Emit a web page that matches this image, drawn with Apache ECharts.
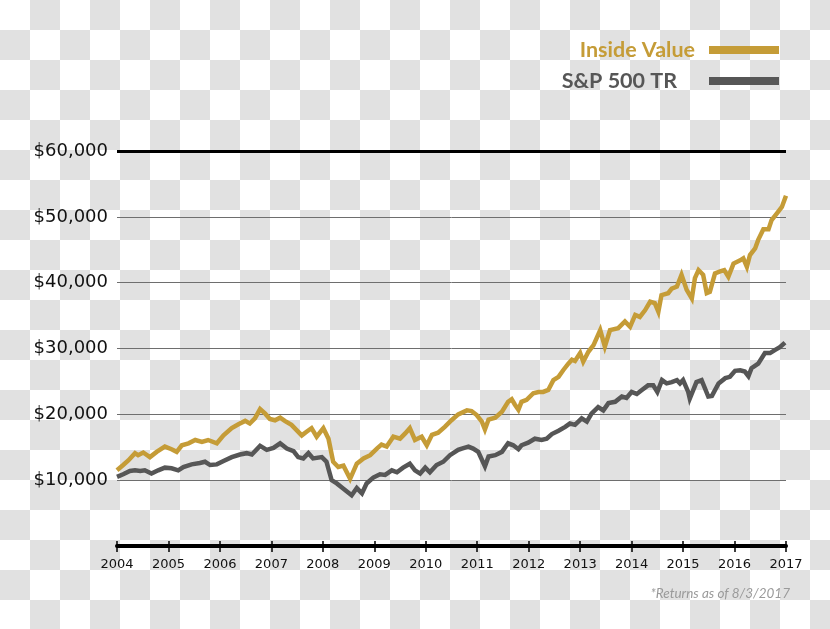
<!DOCTYPE html>
<html>
<head>
<meta charset="utf-8">
<script src="https://cdn.jsdelivr.net/npm/echarts@6/dist/echarts.min.js"></script>
<style>
  html, body { margin: 0; padding: 0; }
  body {
    width: 830px; height: 629px; overflow: hidden;
    background: repeating-conic-gradient(#e1e1e1 0 25%, #ffffff 0 50%) 0 0 / 60px 60px;
  }
  #chart { width: 830px; height: 629px; }
</style>
</head>
<body>
<div id="chart"></div>
<script>
// ---- data ----
const seriesNames = ['Inside Value', 'S&P 500 TR'];
const yTicks = [0, 10000, 20000, 30000, 40000, 50000, 60000];
const xTickYears = [2004, 2005, 2006, 2007, 2008, 2009, 2010, 2011, 2012, 2013, 2014, 2015, 2016, 2017];

const ivYears = [2004.00,2004.12,2004.22,2004.35,2004.41,2004.51,2004.64,2004.77,2004.93,2005.06,2005.16,2005.26,2005.39,2005.52,2005.65,2005.77,2005.94,2006.07,2006.23,2006.36,2006.49,2006.58,2006.68,2006.78,2006.88,2006.97,2007.07,2007.17,2007.26,2007.39,2007.49,2007.59,2007.69,2007.78,2007.88,2008.01,2008.11,2008.20,2008.30,2008.40,2008.53,2008.66,2008.79,2008.92,2009.05,2009.14,2009.24,2009.37,2009.50,2009.60,2009.69,2009.79,2009.92,2010.02,2010.12,2010.24,2010.37,2010.50,2010.63,2010.80,2010.89,2010.99,2011.09,2011.15,2011.22,2011.35,2011.48,2011.60,2011.67,2011.73,2011.80,2011.86,2011.96,2012.09,2012.19,2012.28,2012.38,2012.48,2012.58,2012.67,2012.77,2012.84,2012.90,2013.00,2013.06,2013.16,2013.26,2013.39,2013.48,2013.58,2013.74,2013.87,2013.97,2014.07,2014.16,2014.26,2014.36,2014.45,2014.52,2014.58,2014.71,2014.78,2014.88,2014.97,2015.07,2015.17,2015.23,2015.30,2015.39,2015.46,2015.52,2015.62,2015.72,2015.80,2015.88,2015.98,2016.11,2016.17,2016.24,2016.30,2016.40,2016.46,2016.56,2016.66,2016.72,2016.82,2016.92,2017.00];
const ivValues = [11500,12300,13000,14100,13800,14200,13500,14300,15100,14700,14300,15300,15600,16100,15800,16100,15600,16800,17900,18500,19000,18600,19400,20800,20100,19300,19100,19500,19000,18400,17600,16800,17400,17900,16600,17900,16300,12800,12000,12200,10200,12500,13300,13800,14800,15400,15100,16600,16300,17100,17900,16100,16600,15300,16900,17200,18100,19100,20000,20600,20500,19900,18900,17700,19200,19500,20400,21900,22300,21500,20700,21900,22200,23200,23400,23400,23700,25200,25700,26700,27700,28300,28100,29300,28000,29500,30500,32800,30300,32800,33100,34100,33300,35100,34800,35800,37100,36900,35600,38100,38400,39100,39400,41200,38900,37600,40700,41900,41200,38400,38600,41400,41700,41900,40900,42900,43400,43700,42400,44200,45200,46500,48100,48100,49500,50500,51500,53200];

const spYears = [2004.00,2004.12,2004.25,2004.35,2004.45,2004.54,2004.67,2004.80,2004.93,2005.06,2005.19,2005.29,2005.45,2005.61,2005.71,2005.81,2005.94,2006.07,2006.23,2006.39,2006.52,2006.62,2006.78,2006.91,2007.04,2007.17,2007.30,2007.43,2007.52,2007.62,2007.72,2007.81,2007.98,2008.07,2008.17,2008.27,2008.40,2008.56,2008.66,2008.76,2008.85,2008.98,2009.11,2009.21,2009.34,2009.44,2009.56,2009.69,2009.79,2009.89,2009.99,2010.08,2010.21,2010.34,2010.47,2010.63,2010.70,2010.83,2010.92,2011.02,2011.15,2011.22,2011.35,2011.48,2011.60,2011.70,2011.80,2011.86,2011.99,2012.12,2012.25,2012.35,2012.45,2012.58,2012.71,2012.80,2012.90,2013.03,2013.13,2013.22,2013.35,2013.45,2013.55,2013.68,2013.81,2013.90,2014.00,2014.10,2014.20,2014.32,2014.42,2014.50,2014.59,2014.68,2014.78,2014.88,2014.94,2015.00,2015.10,2015.13,2015.26,2015.36,2015.49,2015.56,2015.69,2015.82,2015.91,2016.01,2016.11,2016.20,2016.27,2016.33,2016.46,2016.59,2016.69,2016.79,2016.88,2016.98];
const spValues = [10500,10900,11400,11500,11400,11500,11000,11500,11900,11800,11500,12000,12400,12600,12800,12300,12400,12900,13500,13900,14100,13900,15200,14600,14900,15600,14800,14400,13500,13300,14100,13300,13500,12800,10000,9500,8700,7700,8800,8000,9500,10400,10900,10800,11500,11200,11900,12500,11500,11000,11900,11200,12300,12800,13800,14600,14800,15100,14800,14300,12100,13600,13800,14300,15600,15300,14700,15300,15700,16300,16100,16300,17000,17500,18100,18600,18400,19400,18900,20100,21100,20600,21700,21900,22700,22500,23400,23100,23700,24400,24400,23400,25200,24700,24900,25200,24700,25200,23400,22400,24900,25200,22700,22800,24700,25500,25700,26600,26700,26500,25800,27000,27700,29300,29300,29800,30200,30900];

const footnote = '*Returns as of 8/3/2017';

// ---- chart ----
const gold = '#c59c37';
const grey = '#565656';
const chart = echarts.init(document.getElementById('chart'), null, { renderer: 'canvas' });

const pair = (xs, ys) => xs.map((x, i) => [x, ys[i]]);
const fmtMoney = v => '$' + v.toLocaleString('en-US');

chart.setOption({
  animation: false,
  backgroundColor: 'transparent',
  grid: { left: 117, right: 44, top: 151, bottom: 83, containLabel: false },
  legend: {
    orient: 'vertical',
    right: 46,
    top: 34,
    align: 'right',
    icon: 'rect',
    itemWidth: 70,
    itemHeight: 8,
    itemGap: 9,
    selectedMode: false,
    data: [
      { name: seriesNames[0], textStyle: { color: gold, padding: [0, 9, 0, 0] } },
      { name: seriesNames[1], textStyle: { color: grey, padding: [0, 27, 0, 0] } }
    ],
    textStyle: { fontFamily: 'Lato', fontWeight: 'bold', fontSize: 21.5 }
  },
  xAxis: [{
    type: 'value',
    min: xTickYears[0],
    max: xTickYears[xTickYears.length - 1],
    interval: 1,
    axisLine: { show: true, onZero: false, lineStyle: { color: '#000', width: 4 } },
    axisTick: { show: true, length: 6, lineStyle: { color: '#000', width: 1.5 } },
    axisLabel: { margin: 12, color: '#111', fontFamily: 'DejaVu Sans', fontSize: 13, formatter: v => String(v) },
    splitLine: { show: false }
  }, {
    type: 'value',
    position: 'bottom',
    min: xTickYears[0],
    max: xTickYears[xTickYears.length - 1],
    interval: 1,
    axisLine: { show: false, onZero: false },
    axisTick: { show: true, inside: true, length: 5, lineStyle: { color: '#000', width: 1.5 } },
    axisLabel: { show: false },
    splitLine: { show: false }
  }],
  yAxis: {
    type: 'value',
    min: yTicks[0],
    max: yTicks[yTicks.length - 1],
    interval: 10000,
    axisLine: { show: false },
    axisTick: { show: false },
    axisLabel: {
      margin: 9, color: '#111', fontFamily: 'DejaVu Sans', fontSize: 18,
      formatter: v => (v === 0 ? '' : fmtMoney(v))
    },
    splitLine: { show: true, lineStyle: { color: ['transparent', '#6e6e6e', '#6e6e6e', '#6e6e6e', '#6e6e6e', '#6e6e6e', 'transparent'], width: 1 } }
  },
  series: [{
    name: seriesNames[0],
    type: 'line',
    data: pair(ivYears, ivValues),
    showSymbol: false,
    symbol: 'none',
    lineStyle: { color: gold, width: 4.5, join: 'miter' },
    itemStyle: { color: gold },
    z: 3,
    markLine: {
      silent: true,
      symbol: ['none', 'none'],
      label: { show: false },
      lineStyle: { color: '#000', width: 3, type: 'solid' },
      data: [{ yAxis: yTicks[yTicks.length - 1] }]
    }
  }, {
    name: seriesNames[1],
    type: 'line',
    data: pair(spYears, spValues),
    showSymbol: false,
    symbol: 'none',
    lineStyle: { color: grey, width: 4.5, join: 'miter' },
    itemStyle: { color: grey },
    z: 2
  }],
  graphic: [{
    type: 'text',
    right: 40,
    top: 587,
    style: { text: footnote, fill: '#9a9a9a', font: 'italic 13.5px Lato', textAlign: 'right' }
  }]
});
</script>
</body>
</html>
